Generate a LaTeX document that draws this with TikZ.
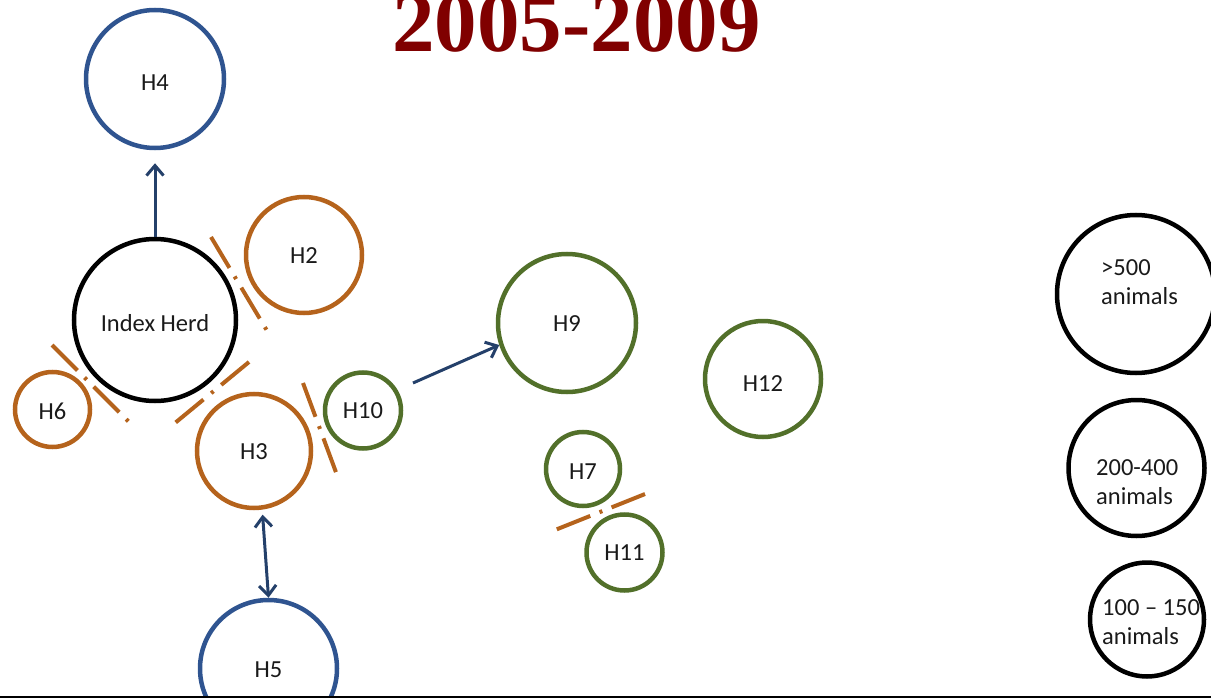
\documentclass[tikz,border=0pt]{standalone}
\usepackage{fontspec}
\setmainfont{Carlito}
\newfontfamily\titlefont{Liberation Serif}
\usetikzlibrary{arrows.meta,calc}
\definecolor{hblue}{HTML}{2F5490}
\definecolor{hbrown}{HTML}{B5631C}
\definecolor{hgreen}{HTML}{52702A}
\definecolor{arrblue}{HTML}{24406A}
\definecolor{titlered}{HTML}{800000}
\definecolor{labtext}{HTML}{1A1A1A}
\newcommand{\lowlab}[2][3pt]{\raisebox{-#1}[\height][\depth]{#2}}
\begin{document}
\begin{tikzpicture}[x=1pt,y=-1pt,
  herd/.style={circle,draw,line width=4.5pt,inner sep=0pt,font=\fontsize{24.5}{29.5}\selectfont,text=labtext},
  bluec/.style={herd,draw=hblue},
  brownc/.style={herd,draw=hbrown},
  greenc/.style={herd,draw=hgreen},
  blackc/.style={herd,draw=black},
  legtext/.style={anchor=west,align=left,inner sep=0pt,font=\fontsize{24.5}{29.5}\selectfont,text=labtext},
  arr/.style={draw=arrblue,line width=3pt,-{Straight Barb[length=10pt,width=17pt,line width=3pt]}},
  arrboth/.style={draw=arrblue,line width=3pt,{Straight Barb[length=10pt,width=17pt,line width=3pt]}-{Straight Barb[length=10pt,width=17pt,line width=3pt]}},
  barrier/.style={draw=hbrown,line width=4pt,dash pattern=on 36pt off 10pt on 3pt off 10pt}]
\useasboundingbox (0,0) rectangle (1211,698);
\clip (0,0) rectangle (1211,698);

% title
\node[font=\titlefont\bfseries\fontsize{85}{85}\selectfont,text=titlered,anchor=base,inner sep=0pt] (title) at (576.5,52) {2005-2009};

% herds
\node[bluec,minimum size=138pt] (h4) at (155,79) {\lowlab[4pt]{H4}};
\node[blackc,minimum size=162pt] (idx) at (155,320) {\lowlab{Index Herd}};
\node[brownc,minimum size=116pt] (h2) at (304,255) {\lowlab[1pt]{H2}};
\node[brownc,minimum size=75pt] (h6) at (52.5,409.5) {\lowlab[2pt]{H6}};
\node[brownc,minimum size=114pt] (h3) at (254,451) {\lowlab[1pt]{H3}};
\node[greenc,minimum size=76pt] (h10) at (363,410.5) {\lowlab[0pt]{H10}};
\node[greenc,minimum size=138pt] (h9) at (567,323) {\lowlab[1pt]{H9}};
\node[greenc,minimum size=116pt] (h12) at (763,379) {\lowlab[5pt]{H12}};
\node[greenc,minimum size=74pt] (h7) at (583,469) {\lowlab{H7}};
\node[greenc,minimum size=76pt] (h11) at (624.5,552.5) {\lowlab[0pt]{H11}};
\node[bluec,minimum size=137pt] (h5) at (268.5,668.5) {\lowlab[1pt]{H5}};

% legend
\node[blackc,minimum size=158pt] (l1) at (1136,294) {};
\node[blackc,minimum size=136pt] (l2) at (1136.5,468) {};
\node[blackc,minimum size=114pt] (l3) at (1147,619.5) {};
\node[legtext] (l1t) at (1101,282) {>500\\animals};
\node[legtext] (l2t) at (1096,482) {200-400\\animals};
\node[legtext] (l3t) at (1102,622) {100 -- 150\\animals};

% arrows
\draw[arr,shorten >=13pt] (idx.north) -- (h4.south);
\coordinate (a2s) at (413,383);
\draw[arr] (a2s) -- (h9.198);
\draw[arrboth,shorten <=5pt] (h3.-82) -- (h5.north);

% barriers
\coordinate (b1s) at (211,237); \coordinate (b1e) at (269,334);
\coordinate (b2s) at (52,345);  \coordinate (b2e) at (132,425);
\coordinate (b3s) at (249,362); \coordinate (b3e) at (175,423);
\coordinate (b4s) at (303,383); \coordinate (b4e) at (337,475);
\coordinate (b5s) at (645,494); \coordinate (b5e) at (555,530);
\draw[barrier] (b1s) -- (b1e);
\draw[barrier] (b2s) -- (b2e);
\draw[barrier] (b3s) -- (b3e);
\draw[barrier] (b4s) -- (b4e);
\draw[barrier] (b5s) -- (b5e);

% bottom rule
\coordinate (rl) at (0,697); \coordinate (rr) at (1211,697);
\draw[line width=2pt] (rl) -- (rr);
\end{tikzpicture}
\end{document}
